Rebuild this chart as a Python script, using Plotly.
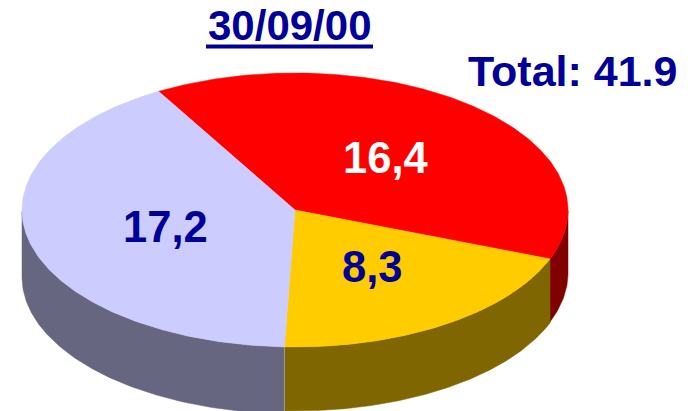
import numpy as np
import plotly.graph_objects as go

labels = ["16,4", "8,3", "17,2"]
values = [16.4, 8.3, 17.2]
title_text = "30/09/00"
total_text = "Total: 41.9"
top_colors = ["#FF0000", "#FFCC00", "#CCCCFF"]
side_colors = ["#800000", "#806600", "#666680"]
label_colors = ["#FFFFFF", "#000099", "#000099"]
label_pos = [(385, 158), (372, 267), (165, 227)]

W, H = 691, 411
cx, cy, rx, ry = 295, 210, 273, 137
wall_depths = [63, 64, 67]
start = 120.0


def pt(t):
    r = np.radians(t)
    return cx + rx * np.cos(r), cy - ry * np.sin(r)


total = sum(values)
edges = [start]
for v in values:
    edges.append(edges[-1] - 360 * v / total)

fig = go.Figure()

# side walls: visible where the rim faces the viewer
for i, col in enumerate(side_colors):
    ts = np.linspace(edges[i], edges[i + 1], 240)
    ts = ts[np.sin(np.radians(ts)) <= 0]
    if ts.size == 0:
        continue
    x, y = pt(ts)
    d = wall_depths[i]
    xs = np.concatenate([x, x[::-1], x[:1]])
    ys = np.concatenate([y, y[::-1] + d, y[:1]])
    fig.add_trace(go.Scatter(x=xs, y=ys, mode="lines", fill="toself", fillcolor=col,
                             line=dict(color=col, width=0.5), hoverinfo="skip", showlegend=False))

# pale seam between the lavender and yellow walls
sx, sy = pt(edges[2])
fig.add_trace(go.Scatter(x=[sx, sx], y=[sy, sy + wall_depths[2]], mode="lines",
                         line=dict(color="#9C9C8C", width=1), hoverinfo="skip", showlegend=False))

# top wedges
for i, col in enumerate(top_colors):
    ts = np.linspace(edges[i], edges[i + 1], 240)
    x, y = pt(ts)
    xs = np.concatenate([[cx], x, [cx]])
    ys = np.concatenate([[cy], y, [cy]])
    fig.add_trace(go.Scatter(x=xs, y=ys, mode="lines", fill="toself", fillcolor=col,
                             line=dict(color=col, width=0.5), hoverinfo="skip", showlegend=False))

for lab, col, (lx, ly) in zip(labels, label_colors, label_pos):
    fig.add_annotation(x=lx, y=ly, text=f"<b>{lab}</b>", showarrow=False,
                       font=dict(family="Liberation Sans", size=43.5, color=col))

fig.add_annotation(x=290, y=25, text=f"<b>{title_text}</b>", showarrow=False,
                   font=dict(family="Liberation Sans", size=42, color="#000099"))
fig.add_shape(type="line", x0=206, x1=373, y0=46.5, y1=46.5,
              line=dict(color="#000099", width=4))
fig.add_annotation(x=572, y=71, text=f"<b>{total_text}</b>", showarrow=False,
                   font=dict(family="Liberation Sans", size=43, color="#000099"))

fig.update_layout(
    width=W, height=H, margin=dict(l=0, r=0, t=0, b=0),
    paper_bgcolor="white", plot_bgcolor="white", showlegend=False,
    xaxis=dict(range=[0, W], visible=False, fixedrange=True),
    yaxis=dict(range=[H, 0], visible=False, fixedrange=True),
)
fig.write_html("out.html", config={"displayModeBar": False},
               post_script="document.body.style.margin='0';document.documentElement.style.overflow='hidden';")
